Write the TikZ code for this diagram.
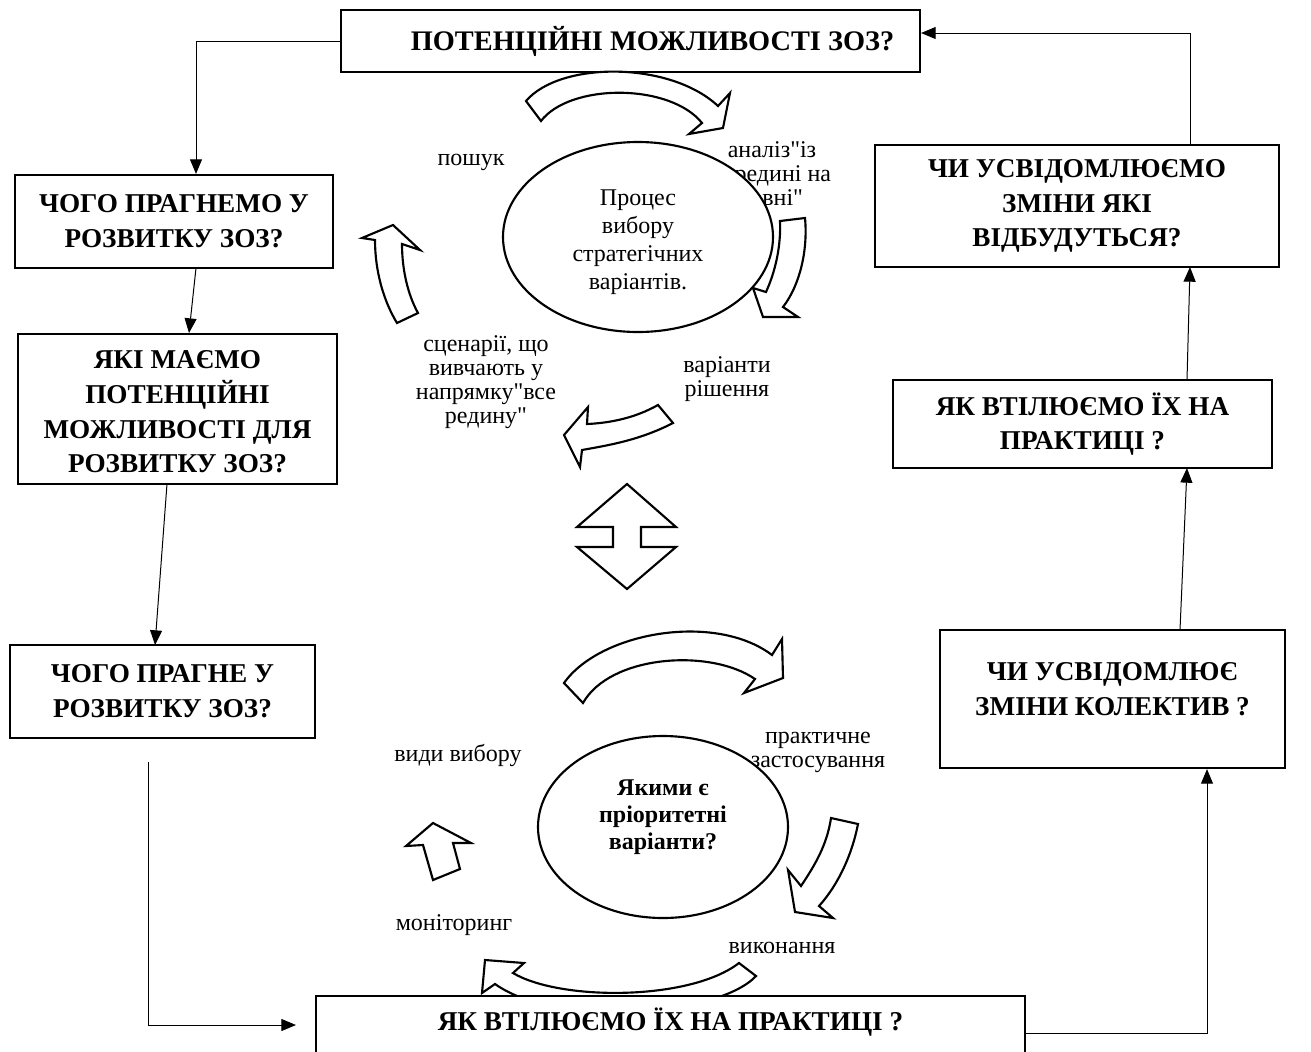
\documentclass[tikz,border=0pt]{standalone}
\usepackage{fontspec}
\setmainfont{Liberation Serif}[Ligatures=TeXOff]
\usetikzlibrary{arrows.meta,shapes.geometric}
\begin{document}
\begin{tikzpicture}[x=0.75pt,y=-0.75pt,
  qbox/.style={draw,line width=1.6pt,fill=white,align=center,
    font=\fontsize{20.4}{26}\selectfont\bfseries,inner sep=0pt},
  conn/.style={line width=0.75pt,-{Triangle[width=9pt,length=11pt]}},
  blk/.style={draw,line width=1.6pt,fill=white,line join=miter},
  lbl/.style={align=center,font=\fontsize{18}{18}\selectfont,inner sep=0pt},
  ell/.style={draw,ellipse,line width=1.6pt,fill=white,inner sep=0pt,align=center}]
\fill[white] (0,0) rectangle (1311,1051);
\useasboundingbox (0,0) rectangle (1311,1051);

% ---- labels (behind the ellipses) ----
\node[lbl] (lposhuk) at (471,162) {пошук};
\node[lbl] (lanaliz) at (772,174) {аналіз"із\\середині на\\зовні"};
\node[lbl] (lscen) at (486,382) {сценарії, що\\вивчають у\\напрямку"все\\редину"};
\node[lbl] (lvar) at (727,379) {варіанти\\рішення};
\node[lbl] (lvydy) at (458,755) {види вибору};
\node[lbl] (lprakt) at (818,752) {практичне\\застосування};
\node[lbl] (lmon) at (454,925) {моніторинг};
\node[lbl] (lvyk) at (782,948) {виконання};

% ---- boxes ----
\node[qbox,minimum width=434.25pt,minimum height=46.5pt,font=\fontsize{21.25}{26}\selectfont\bfseries] (T) at (630.5,41) {\hspace*{33pt}ПОТЕНЦІЙНІ МОЖЛИВОСТІ ЗОЗ?};
\node[qbox,minimum width=238.5pt,minimum height=69.75pt] (L1) at (174,221.5) {ЧОГО ПРАГНЕМО У\\РОЗВИТКУ ЗОЗ?};
\node[qbox,minimum width=239.25pt,minimum height=112.5pt] (L2) at (177.5,409) {\rule{0pt}{18pt}ЯКІ МАЄМО\\ПОТЕНЦІЙНІ\\МОЖЛИВОСТІ ДЛЯ\\РОЗВИТКУ ЗОЗ?};
\node[qbox,minimum width=228.75pt,minimum height=69.75pt] (L3) at (162.5,691.5) {ЧОГО ПРАГНЕ У\\РОЗВИТКУ ЗОЗ?};
\node[qbox,minimum width=303pt,minimum height=91.5pt] (R1) at (1077,206) {ЧИ УСВІДОМЛЮЄМО\\ЗМІНИ ЯКІ\\ВІДБУДУТЬСЯ?};
\node[qbox,minimum width=284.25pt,minimum height=66pt] (R2) at (1082.5,424) {ЯК ВТІЛЮЄМО ЇХ НА\\ПРАКТИЦІ ?};
\node[qbox,minimum width=258.75pt,minimum height=103.5pt] (R3) at (1112.5,699) {ЧИ УСВІДОМЛЮЄ\\ЗМІНИ КОЛЕКТИВ ?\\[-11pt]\mbox{}};

% ---- block arrows, upper cycle ----
\draw[blk] (526,101) .. controls (560,61) and (670,61) .. (718,106) -- (730,93) -- (723,128) -- (689,134) -- (702,123) .. controls (670,83) and (570,83) .. (541,121) -- cycle;
\draw[blk] (780,221) -- (805,218) .. controls (808,250) and (800,285) .. (783,307) -- (798,317) -- (763,317) -- (753,288) -- (766,292) .. controls (776,270) and (781,245) .. (780,221) -- cycle;
\draw[blk] (397,323) .. controls (383,300) and (375,270) .. (375,240) -- (362,238) -- (393,225) -- (420,250) -- (402,244) .. controls (402,270) and (408,295) .. (418,313) -- cycle;
\draw[blk] (658,405) -- (673,423) .. controls (640,440) and (610,445) .. (582,450) -- (580,467) -- (564,435) -- (588,407) -- (587,424) .. controls (610,423) and (635,418) .. (658,405) -- cycle;

% ---- double arrow ----
\draw[blk] (627,484) -- (676,527) -- (641,527) -- (641,547) -- (676,547) -- (627,589) -- (577,547) -- (613,547) -- (613,527) -- (577,527) -- cycle;

% ---- block arrows, lower cycle ----
\draw[blk] (564,683) .. controls (600,632) and (715,612) .. (772,655) -- (782,639) -- (783,678) -- (744,693) -- (755,679) .. controls (710,648) and (610,655) .. (583,703) -- cycle;
\draw[blk] (831,818) -- (858,824) .. controls (852,855) and (838,885) .. (819,906) -- (833,918) -- (795,912) -- (788,870) -- (801,886) .. controls (815,865) and (827,845) .. (831,818) -- cycle;
\draw[blk] (433,880) -- (460,869) -- (453,843) -- (471,843) -- (433,823) -- (406,846) -- (423,845) -- cycle;
\draw[blk] (739,963) -- (756,976) .. controls (720,1015) and (560,1030) .. (495,984) -- (482,993) -- (485,960) -- (524,963) -- (513,973) .. controls (560,1001) and (690,1001) .. (739,963) -- cycle;

% ---- ellipses ----
\node[ell,minimum width=202.5pt,minimum height=142.5pt,font=\fontsize{18}{21}\selectfont] (E1) at (638,237) {\rule{0pt}{19pt}Процес\\вибору\\стратегічних\\варіантів.};
\node[ell,minimum width=187.5pt,minimum height=136.5pt,font=\fontsize{18}{20.25}\selectfont\bfseries] (E2) at (663,827) {Якими є\\пріоритетні\\варіанти?\\[-2.25pt]\mbox{}};

% ---- bottom box (cut by the page edge) ----
\node[draw,line width=1.6pt,fill=white,anchor=north,minimum width=531.75pt,inner sep=0pt,
  text height=26pt,text depth=40pt,font=\fontsize{20.4}{26}\selectfont\bfseries] (B) at (670.5,995) {ЯК ВТІЛЮЄМО ЇХ НА ПРАКТИЦІ ?};

% ---- connectors ----
\coordinate (tl) at (196,41);
\draw[conn] (T.west |- tl) -- (tl) -- (tl |- L1.north);
\draw[conn] (196,268) -- (189,333);
\draw[conn] (167,484) -- (155,645);
\coordinate (s3) at (148,762);
\coordinate (b3) at (296,1025);
\draw[conn] (s3) |- (b3);
\coordinate (br) at (1207,1033);
\draw[conn] (B.east |- br) -- (br) -- (br |- R3.south);
\draw[conn] (1180,630) -- (1187,468);
\draw[conn] (1187,380) -- (1190,267);
\coordinate (tr) at (1190,33);
\draw[conn] (1190,145) -- (tr) -- (T.east |- tr);
\end{tikzpicture}
\end{document}
